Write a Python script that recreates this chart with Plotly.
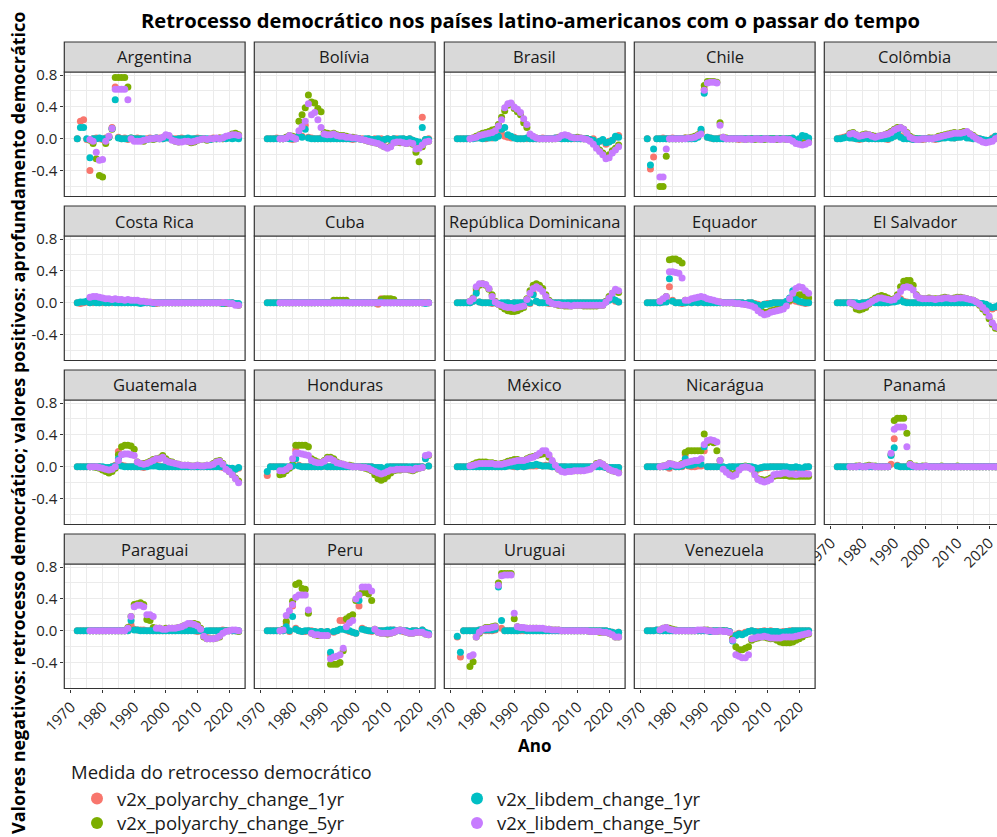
import plotly.graph_objects as go

# ---------------------------------------------------------------------------
# Data: yearly change in the V-Dem indices, one list per country and measure.
# Values are stored in hundredths of an index point; None = not available
# (the 5-year change needs five earlier years).
# ---------------------------------------------------------------------------
YEARS = list(range(1972, 2024))

COUNTRIES = [
    "Argentina", "Bolívia", "Brasil", "Chile", "Colômbia",
    "Costa Rica", "Cuba", "República Dominicana", "Equador", "El Salvador",
    "Guatemala", "Honduras", "México", "Nicarágua", "Panamá",
    "Paraguai", "Peru", "Uruguai", "Venezuela",
]

N = None

ARG_POLY_1 = [0, 22, 24, -1, -40, 0, 1, 0, -1, 1, 3, 14, 65, 2, 0, 1, -1, 0, 0, 1, 0, -1, 0, 1, 0, 0, 1, 0, 2, 1, -1, 0, 0, 1, 0, 0, -1, 0, 1, 0, 0, -1, 0, 1, 0, 1, 0, 1, 2, 1, 3, 2]
ARG_LIB_1 = [0, 14, 14, 0, -24, 0, 0, 1, 0, 0, 2, 13, 49, 1, 0, 0, 0, 1, 0, 0, 0, 0, -1, 0, 0, 1, 0, 0, 1, 1, 0, -1, 0, 0, 0, 1, 0, 0, 0, 0, 0, 0, -1, 0, 0, 0, 1, 0, 1, 0, 1, 0]
ARG_POLY_5 = [N, N, N, N, -2, -6, -25, -46, -48, -6, 2, 12, 77, 77, 77, 77, 65, 1, -1, -2, -2, -3, -1, 0, -1, 1, 0, 1, 4, 3, -1, -3, -4, -3, -2, -3, -5, -4, -2, -1, 0, -2, -1, 0, 0, 1, 0, 2, 3, 6, 7, 5]
ARG_LIB_5 = [N, N, N, N, -1, -3, -17, -27, -26, -3, 3, 13, 62, 62, 62, 62, 49, 0, -3, -3, -3, -2, -1, 0, 0, 1, 0, 2, 5, 4, -2, -3, -4, -4, -3, -3, -4, -3, -2, -1, 0, -1, 0, 0, 1, 0, 1, 3, 4, 5, 5, 4]

BOL_POLY_1 = [0, 0, 0, 1, 0, 0, 2, 0, -1, 0, 5, 3, 17, 2, 1, 0, 0, 1, 0, 0, 0, 1, 0, 0, 0, 0, 0, -1, 0, 0, 0, -1, 0, -2, 0, -1, 0, -2, 0, -1, 0, 0, -1, 0, -1, 0, -2, -4, -6, 27, -1, 0]
BOL_LIB_1 = [0, 0, 0, 0, 0, 0, 1, 0, 0, 0, 4, 2, 12, 1, 0, 0, 0, 0, 0, 0, 0, 0, 0, 0, 0, 0, 0, 0, 0, 0, -1, 0, 0, -1, -1, 0, -2, -1, 0, -1, 0, -1, 0, 0, -1, 0, -2, -3, -4, 14, -1, -1]
BOL_POLY_5 = [N, N, N, N, 0, 0, 2, 4, 3, 1, 22, 30, 39, 55, 46, 45, 38, 34, 8, 7, 6, 7, 5, 4, 4, 3, 2, 2, 1, 0, -1, -2, -3, -4, -5, -6, -8, -10, -11, -9, -5, -4, -5, -4, -6, -5, -7, -17, -29, -10, -4, -3]
BOL_LIB_5 = [N, N, N, N, 0, 0, 1, 4, 2, 0, 10, 15, 22, 44, 30, 33, 24, 14, 6, 5, 5, 6, 4, 3, 3, 2, 2, 1, 1, 0, -1, -2, -3, -4, -5, -6, -8, -10, -12, -10, -5, -4, -4, -5, -6, -5, -6, -13, -12, -8, -4, -3]

BRA_POLY_1 = [0, 0, 0, 0, 0, 1, 1, 2, 1, 0, 2, 1, 2, 4, 10, 3, 2, 1, 2, 0, 0, 0, 0, 0, 0, 0, 0, 1, 0, 0, 0, 1, 2, 0, 1, 0, 0, 0, 1, 0, 0, 0, -1, 0, -5, -3, -2, -7, -3, -2, 2, 4]
BRA_LIB_1 = [0, 0, 0, 0, 0, 0, 1, 1, 0, 1, 1, 2, 1, 3, 12, 14, 5, 3, 1, 0, 0, 0, 1, 0, 0, 0, 0, 0, 0, 0, 0, 1, 1, 0, 0, 0, 0, 1, 0, 0, 0, 0, -1, -2, -6, -3, -1, -5, -4, -2, 3, 2]
BRA_POLY_5 = [N, N, N, N, 0, 1, 3, 5, 7, 8, 9, 11, 12, 18, 27, 35, 42, 44, 38, 34, 30, 20, 14, 4, 2, 1, 0, 0, 0, 0, 0, 0, 1, 3, 4, 3, 2, 1, 2, 1, 0, 0, -2, -5, -10, -14, -18, -22, -20, -15, -12, -8]
BRA_LIB_5 = [N, N, N, N, 0, 1, 2, 4, 5, 6, 7, 8, 10, 16, 24, 39, 44, 45, 40, 37, 33, 25, 18, 6, 3, 1, 0, 0, 0, 0, 0, 0, 1, 4, 5, 4, 2, 1, 1, 1, 0, -1, -3, -7, -12, -16, -20, -25, -24, -18, -14, -10]

CHL_POLY_1 = [0, -38, -23, 0, 0, 1, 0, 0, 1, 0, 0, 0, 1, 0, 0, 1, 3, 10, 62, 2, 1, 0, 0, 1, 0, 0, 0, 0, 0, -1, 0, 0, 0, 0, 0, 0, -1, 0, 0, 0, 0, 0, 0, 0, 0, 0, 0, -3, -2, 2, 1, 0]
CHL_LIB_1 = [0, -33, -13, 0, 0, 0, 0, 0, 0, 0, 0, 0, 0, 0, 0, 0, 2, 12, 57, 2, 1, 0, 0, 0, 0, 0, 0, 0, 0, 0, 0, 0, 0, 0, 0, 0, 0, 0, 0, 0, 0, 0, 0, 0, 0, 0, 1, -2, 0, 4, 3, 1]
CHL_POLY_5 = [N, N, N, N, -60, -60, -22, 0, 0, 0, 0, 0, 1, 1, 2, 3, 5, 8, 67, 72, 72, 72, 71, 20, 2, 1, 0, 0, 0, 0, 0, -1, 0, 0, -1, 0, 0, -1, 0, 0, 0, -1, 0, 0, -1, 0, -2, -4, -5, -6, -5, -4]
CHL_LIB_5 = [N, N, N, N, -48, -48, -13, 0, 0, 0, 0, 0, 0, 1, 1, 2, 4, 6, 61, 70, 71, 71, 70, 17, 2, 0, 0, 0, 0, 0, 0, -1, 0, -1, 0, 0, -1, 0, 0, -1, -1, 0, -1, 0, -1, -1, -3, -6, -7, -8, -7, -5]

COL_POLY_1 = [0, 1, 2, 3, 2, 1, 0, -1, 0, 1, 0, 1, 0, 0, 1, 0, -1, 2, 3, 10, 3, 1, 0, 0, -1, 0, 0, -1, 0, 1, 0, -1, 0, 1, 2, 3, 2, 1, 2, 3, 4, 2, 1, 0, 1, 0, -2, -2, -3, 1, 3, 2]
COL_LIB_1 = [0, 0, 1, 2, 1, 1, 0, 0, 0, 1, 0, 0, 0, 0, 0, 0, 0, 1, 3, 8, 2, 0, 0, 0, -1, 0, 0, 0, 0, 0, 0, 0, 0, 1, 1, 2, 1, 1, 2, 2, 3, 1, 1, 0, 0, 0, -1, -2, -2, 0, 3, 2]
COL_POLY_5 = [N, N, N, N, 7, 8, 5, 3, 5, 6, 5, 4, 3, 3, 4, 5, 7, 9, 12, 14, 14, 12, 8, 3, 1, 0, -1, 0, 0, 1, 1, 1, 3, 4, 5, 6, 7, 8, 7, 8, 9, 8, 6, 4, 1, -1, -3, -4, -3, -2, 1, 2]
COL_LIB_5 = [N, N, N, N, 6, 7, 5, 3, 4, 5, 5, 3, 2, 3, 4, 5, 6, 8, 11, 13, 14, 12, 7, 2, 0, -1, -1, 0, 0, 0, 0, 1, 2, 3, 4, 5, 6, 7, 7, 7, 8, 9, 6, 3, 0, -2, -4, -5, -4, -3, 0, 2]

CRI_POLY_1 = [0, -1, 0, 1, 0, 0, 1, 0, 0, 0, 0, 0, 1, 0, 0, 0, 0, 0, 0, 0, 0, 0, 0, 0, 0, -1, 0, 0, 0, 0, 0, 0, 0, 0, 0, 0, 0, 0, 0, 0, 0, 0, 0, 0, 0, 0, 0, 0, -1, 0, -1, -2]
CRI_LIB_1 = [0, 1, 1, 2, 0, 1, 0, 0, 1, 0, 0, 1, 0, 0, 0, 0, 0, 0, 0, 0, -1, 0, 0, 0, -1, 0, 0, 0, 0, 0, 0, 0, 0, 0, 0, 0, 0, 0, 0, 0, 0, 0, 0, 0, 0, 0, -1, 0, 0, 0, -1, -1]
CRI_POLY_5 = [N, N, N, N, 5, 6, 6, 5, 5, 4, 4, 3, 4, 3, 3, 2, 3, 2, 2, 2, 1, 1, 1, 0, 0, 0, 0, 0, 0, 0, 0, 0, 0, 0, 0, 0, 0, 0, 0, 0, 0, 0, 0, 0, 0, 0, -1, -1, -1, -1, -2, -3]
CRI_LIB_5 = [N, N, N, N, 7, 8, 8, 7, 6, 5, 5, 4, 5, 4, 4, 3, 4, 3, 3, 3, 2, 2, 1, 1, 0, 0, 0, 0, 0, 0, 0, 0, 0, 0, 0, 0, 0, 0, 0, 0, 0, 0, 0, 0, 0, 0, 0, 0, -1, -1, -3, -3]

CUB_POLY_1 = [0, 0, 0, 0, 0, 0, 0, 0, 0, 0, 0, 0, 0, 0, 0, 0, 0, 0, 0, 0, 0, 0, 0, 0, 0, 0, 0, 0, 0, 0, 0, 0, 0, 0, 0, -2, 5, 0, 0, 0, 0, 0, 0, 0, 0, 0, 0, 0, 0, 0, 0, 0]
CUB_LIB_1 = [0, 0, 0, 0, 0, 0, 0, 0, 0, 0, 0, 0, 0, 0, 0, 0, 0, 0, 0, 0, 0, 0, 0, 0, 0, 0, 0, 0, 0, 0, 0, 0, 0, 0, 0, 0, 1, 0, 0, 0, 0, 0, 0, 0, 0, 0, 0, 0, 0, 0, -1, 0]
CUB_POLY_5 = [N, N, N, N, 0, 0, 0, 0, 0, 0, 0, 0, 0, 0, 0, 0, 0, 0, 0, 0, 0, 3, 3, 3, 3, 3, 0, 0, 0, 0, 0, 0, 0, 0, 0, 0, 4, 5, 5, 5, 4, 0, 0, 0, 0, 0, 0, 0, 0, 0, 0, 0]
CUB_LIB_5 = [N, N, N, N, 0, 0, 0, 0, 0, 0, 0, 0, 0, 0, 0, 0, 0, 0, 0, 0, 0, 0, 0, 0, 0, 0, 0, 0, 0, 0, 0, 0, 0, 0, 0, 0, 0, 0, 0, 0, 0, 0, 0, 0, 0, 0, 0, 0, 0, 0, 0, 0]

DOM_POLY_1 = [0, 0, 0, 0, 0, 2, 15, 1, 0, 0, 0, -1, 0, -2, -1, -1, 0, -2, 0, -1, 0, 0, 2, -1, 12, 2, 0, 0, 0, -1, 0, 0, 0, 0, -1, 0, 0, 0, 0, 0, 0, 0, 0, 0, 0, 0, 0, 2, 4, 6, 2, 1]
DOM_LIB_1 = [0, 0, 0, 0, 0, 2, 12, 1, 0, 0, 0, 0, 0, -1, 0, 0, 0, -1, 0, 0, 0, 0, 1, 0, 10, 2, 0, 0, 0, 0, 0, 0, 0, 0, 0, 0, 0, 0, 0, 0, 0, 0, 0, 0, 0, 0, 0, 1, 3, 5, 3, 1]
DOM_POLY_5 = [N, N, N, N, 2, 6, 18, 22, 24, 22, 17, 10, 2, -2, -5, -8, -10, -11, -11, -10, -8, -6, 5, 15, 22, 24, 22, 18, 10, 3, -1, -2, -3, -3, -4, -4, -4, -3, -3, -3, -4, -4, -4, -4, -4, -3, -3, 2, 8, 12, 15, 13]
DOM_LIB_5 = [N, N, N, N, 2, 5, 20, 24, 24, 23, 18, 8, 1, -2, -3, -5, -6, -6, -7, -6, -5, -4, 4, 12, 18, 20, 18, 14, 8, 2, -1, -2, -2, -3, -3, -3, -4, -3, -3, -3, -3, -3, -3, -3, -3, -3, -3, 1, 6, 12, 17, 15]

ECU_POLY_1 = [0, 0, 0, 0, 0, 1, 2, 20, 3, 0, 0, -1, 0, 1, 0, 1, 0, 1, 0, 0, 0, 0, 0, 0, 0, 0, 0, 0, 0, 0, 0, -1, 0, 0, -1, -2, -3, -2, -1, -1, 0, 0, 0, 0, 1, 2, 4, 2, 1, 0, -1, 0]
ECU_LIB_1 = [0, 0, 0, 0, 0, 1, 1, 30, 2, 0, 0, 0, 0, 1, 0, 1, 0, 1, 0, 0, 0, 0, 0, 0, 0, 0, 0, 0, 0, 0, 0, -1, 0, 0, -2, -3, -4, -2, -2, -1, 0, 0, 0, 0, 2, 6, 15, 4, 2, 1, 0, 0]
ECU_POLY_5 = [N, N, N, N, 2, 4, 8, 54, 55, 55, 53, 50, 3, 2, 3, 5, 6, 6, 5, 4, 3, 2, 1, 1, 0, 0, 0, 0, -1, -1, -1, -2, -2, -3, -5, -8, -10, -12, -12, -10, -9, -8, -6, -5, -2, 3, 5, 8, 10, 10, 8, 6]
ECU_LIB_5 = [N, N, N, N, 2, 5, 8, 39, 39, 38, 37, 31, 3, 3, 5, 6, 7, 8, 7, 5, 4, 3, 2, 1, 0, 0, 0, 0, -1, -1, -2, -2, -3, -4, -6, -10, -13, -15, -14, -12, -11, -10, -9, -8, -4, 5, 12, 18, 20, 19, 15, 12]

SLV_POLY_1 = [0, 0, 0, 0, 0, 0, -1, -2, 0, 0, 1, 2, 1, 0, 0, 0, 0, 1, 2, 3, 5, 2, 1, 0, 0, 0, 0, 0, 0, 1, 0, 0, 0, 0, 0, 0, 0, 0, 0, 0, 0, 0, 0, 0, 0, -1, -2, -3, -5, -8, -6, -4]
SLV_LIB_1 = [0, 0, 0, 0, 0, 0, 0, -1, 0, 0, 1, 1, 0, 0, 0, 0, 0, 1, 1, 2, 3, 1, 0, 0, 0, 0, 0, 0, 0, 0, 0, 0, 0, 0, 0, 0, 0, 0, 0, 0, 0, 0, 0, 0, 0, -1, -1, -2, -4, -6, -5, -3]
SLV_POLY_5 = [N, N, N, N, 0, -2, -8, -9, -8, -6, -2, 3, 6, 8, 9, 8, 6, 4, 5, 10, 20, 27, 28, 28, 22, 10, 6, 5, 5, 6, 5, 5, 5, 6, 7, 6, 5, 6, 7, 7, 6, 5, 4, 3, 1, -3, -8, -12, -20, -27, -32, -33]
SLV_LIB_5 = [N, N, N, N, 0, -1, -4, -5, -4, -3, -1, 2, 4, 6, 6, 5, 4, 3, 4, 8, 14, 19, 20, 19, 16, 9, 6, 5, 5, 5, 5, 4, 5, 5, 6, 6, 5, 5, 6, 6, 6, 5, 4, 3, 1, -2, -6, -10, -17, -25, -30, -32]

GTM_POLY_1 = [0, 0, 0, 0, 0, 0, 0, 0, -1, -2, -1, 0, 2, 19, 2, 1, 0, 0, 0, 0, 0, -1, 1, 2, 3, 2, 1, 0, 0, 0, 0, 0, 0, 0, 0, 0, 0, 0, 0, 0, 0, 0, 0, 0, 1, 0, -1, -2, -3, -4, -3, -2]
GTM_LIB_1 = [0, 0, 0, 0, 0, 0, 0, 0, 0, -1, -1, 0, 1, 10, 1, 0, 0, 0, 0, 0, 0, 0, 0, 1, 1, 1, 0, 0, 0, 0, 0, 0, 0, 0, 0, 0, 0, 0, 0, 0, 0, 0, 0, 0, 0, 0, 0, -1, -2, -2, -3, -1]
GTM_POLY_5 = [N, N, N, N, 0, 0, -1, -2, -4, -6, -8, -6, -2, 15, 25, 27, 27, 26, 22, 6, 4, 4, 5, 7, 9, 10, 11, 14, 10, 7, 6, 4, 3, 2, 2, 2, 1, 1, 2, 1, 1, 2, 2, 4, 7, 8, 4, -2, -6, -10, -14, -18]
GTM_LIB_5 = [N, N, N, N, 0, 0, 0, -1, -2, -3, -4, -3, 0, 8, 15, 16, 16, 15, 14, 6, 4, 3, 4, 6, 8, 10, 10, 12, 8, 6, 5, 4, 3, 2, 2, 2, 1, 1, 2, 1, 1, 2, 2, 3, 6, 7, 3, -3, -6, -10, -15, -20]

HND_POLY_1 = [-11, 0, 0, 0, 0, 0, -1, 0, 1, 21, 2, 0, 0, 0, 0, 0, 0, 0, 1, 0, 0, 0, 0, 0, 0, 0, 0, 0, 0, 0, 0, 0, 0, 0, -1, -1, -2, -8, -1, 0, 0, 0, 0, 0, 0, -1, 0, 0, 0, 0, 12, 1]
HND_LIB_1 = [-6, 0, 0, 0, 0, 0, 0, 0, 1, 10, 1, 0, 0, 0, 0, 0, 0, 0, 1, 0, 0, 0, 0, 0, 0, 0, 0, 0, 0, 0, 0, 0, 0, 0, -1, -1, -1, -6, 0, 0, 0, 0, 0, 0, 0, 0, 0, 0, 0, 0, 10, 1]
HND_POLY_5 = [N, N, N, N, -10, -9, -5, -2, 3, 27, 27, 27, 27, 25, 10, 8, 6, 5, 8, 12, 12, 10, 6, 4, 3, 2, 2, 1, 0, 0, -1, -2, -3, -5, -10, -15, -17, -15, -12, -8, -5, -4, -4, -3, -3, -4, -5, -3, -2, -1, 12, 14]
HND_LIB_5 = [N, N, N, N, -5, -5, -3, 0, 10, 17, 17, 16, 15, 14, 8, 6, 5, 5, 7, 10, 10, 8, 5, 4, 3, 2, 1, 0, 0, 0, -1, -1, -2, -4, -6, -8, -9, -8, -6, -4, -4, -3, -3, -3, -3, -3, -4, -2, -2, -1, 14, 15]

MEX_POLY_1 = [0, 0, 0, 0, 1, 1, 0, 0, 1, 0, 0, 0, 0, 0, 0, 1, 1, 1, 0, 0, 1, 0, 1, 1, 1, 1, 2, 1, 2, 1, 0, 0, -1, 0, 0, -1, 0, 0, 0, 0, 0, 0, 0, 0, 1, 0, 0, -1, -1, -1, -2, -1]
MEX_LIB_1 = [0, 0, 0, 0, 0, 0, 0, 0, 0, 0, 0, 0, 0, 0, 0, 0, 1, 1, 1, 0, 1, 0, 1, 2, 2, 3, 2, 1, 1, 1, 0, 0, 0, 0, 0, 0, 0, 0, 0, 0, 0, 0, 0, 0, 0, 0, 0, -1, -1, -1, -1, -1]
MEX_POLY_5 = [N, N, N, N, 1, 3, 5, 6, 6, 6, 5, 5, 4, 3, 4, 5, 7, 8, 9, 9, 8, 8, 10, 12, 13, 14, 15, 16, 17, 12, 6, 1, -3, -5, -6, -5, -5, -5, -5, -5, -4, -3, -2, 0, 4, 5, 3, 0, -3, -5, -6, -7]
MEX_LIB_5 = [N, N, N, N, 1, 2, 3, 4, 4, 4, 4, 4, 3, 3, 3, 4, 5, 6, 7, 8, 8, 8, 9, 11, 12, 14, 17, 20, 20, 15, 8, 2, -3, -6, -7, -6, -6, -5, -5, -5, -5, -4, -3, 0, 3, 5, 3, 0, -3, -5, -6, -8]

NIC_POLY_1 = [0, 0, 0, 0, 0, 0, 0, -2, 2, 0, 0, 0, 15, 1, 0, 0, 1, 1, 20, 0, 0, 0, 0, 0, -1, -1, -1, 0, -1, 0, 0, 0, 0, -1, -2, -3, -2, -1, -1, 0, 0, 0, 0, 0, -1, -1, -2, -1, -2, -3, -1, 0]
NIC_LIB_1 = [0, 0, 0, 0, 0, 0, 0, 0, 2, 0, 0, 1, 10, 2, 2, 3, 5, 3, 25, 0, 0, 0, 0, 0, 0, -1, 0, 0, 0, 0, 0, 0, 0, 0, -1, -2, -1, 0, 0, 0, 0, 0, 0, 0, 0, -1, -1, 0, -1, -2, 0, 0]
NIC_POLY_5 = [N, N, N, N, 0, 1, 2, 4, 3, 2, 2, 4, 18, 20, 20, 20, 20, 20, 41, 30, 32, 30, 20, 8, -2, -6, -8, -10, -8, -3, 0, 1, 0, -2, -8, -15, -16, -17, -16, -14, -12, -11, -11, -11, -11, -12, -12, -12, -12, -12, -12, -12]
NIC_LIB_5 = [N, N, N, N, 0, 1, 2, 4, 3, 2, 2, 3, 5, 6, 7, 8, 8, 10, 28, 33, 34, 33, 31, 8, -3, -7, -10, -12, -10, -4, -1, 0, -1, -3, -10, -16, -18, -19, -18, -16, -10, -9, -9, -8, -8, -9, -9, -10, -9, -9, -9, -9]

PAN_POLY_1 = [0, 0, 0, 0, 0, 0, 0, 1, 0, 0, 0, 0, 0, 0, 0, 0, 0, 3, 35, 2, 0, 0, 0, 0, 0, 0, 0, 0, 0, 0, 0, 0, 0, 0, 0, 0, 0, 0, 0, 0, 0, 0, 0, 0, 0, 0, 0, 0, 0, 0, 0, 0]
PAN_LIB_1 = [0, 0, 0, 0, 0, 0, 0, 0, 0, 0, 0, 0, 0, 0, 0, 0, 0, 14, 24, 1, 0, 0, 0, 0, 0, 0, 0, 0, 0, 0, 0, 0, 0, 0, 0, 0, 0, 0, 0, 0, 0, 0, 0, 0, 0, 0, 0, 0, 0, 0, 0, 0]
PAN_POLY_5 = [N, N, N, N, 0, 0, 1, 1, 0, 1, 2, 1, 1, 0, 0, 0, 0, 15, 58, 61, 61, 61, 42, 4, 1, 1, 0, 1, 1, 0, 0, 0, 0, 1, 0, 0, 0, 0, 1, 0, 0, 0, 0, 0, 0, 0, 0, 0, 0, 0, 0, 0]
PAN_LIB_5 = [N, N, N, N, 0, 0, 0, 1, 0, 0, 1, 1, 0, 0, 0, 0, 0, 17, 47, 50, 50, 50, 25, 3, 1, 0, 0, 0, 1, 0, 0, 0, 0, 0, 0, 0, 0, 0, 0, 0, 0, 0, 0, 0, 0, 0, 0, 0, 0, 0, 0, 0]

PRY_POLY_1 = [0, 0, 0, 0, 0, 0, 0, 0, 0, 0, 0, 0, 0, 0, 0, 0, 0, 7, 2, 1, 1, 1, 0, 0, 0, 0, 0, 0, 0, 0, 0, 0, 1, 0, 0, 0, 1, 0, -1, 0, -2, -1, 0, 0, 0, 0, 1, 0, 0, 0, 0, 0]
PRY_LIB_1 = [0, 0, 0, 0, 0, 0, 0, 0, 0, 0, 0, 0, 0, 0, 0, 0, 0, 13, 1, 1, 0, 0, 0, 0, 0, 0, 0, 0, 0, 0, 0, 0, 0, 0, 0, 0, 0, 0, 0, 0, -1, 0, 0, 0, 0, 0, 0, 0, 0, 0, 0, 0]
PRY_POLY_5 = [N, N, N, N, 0, 0, 0, 0, 0, 0, 0, 0, 0, 0, 0, 0, 4, 18, 33, 34, 35, 33, 14, 13, 4, 3, 3, 2, 3, 3, 3, 3, 4, 5, 7, 8, 9, 9, 8, 3, -8, -10, -10, -10, -9, -8, -2, 0, 0, 0, 0, -1]
PRY_LIB_5 = [N, N, N, N, 0, 0, 0, 0, 0, 0, 0, 0, 0, 0, 0, 0, 3, 18, 30, 32, 32, 30, 20, 20, 18, 3, 3, 2, 2, 3, 3, 3, 4, 5, 7, 9, 9, 8, 6, 2, -7, -10, -10, -10, -9, -7, -3, -1, 0, 1, 1, 0]

PER_POLY_1 = [0, 0, 0, 0, 0, 0, 9, -1, 31, 3, 0, -1, -1, 0, 0, -1, -2, -1, -2, -1, -30, -2, 0, 13, 13, 1, -1, -2, -3, 31, 3, 1, 0, -1, 1, 0, 0, 0, 0, 1, 1, 0, 0, -1, 0, -1, 0, 0, -2, 1, -3, -4]
PER_LIB_1 = [0, 0, 0, 0, 0, 0, 5, 0, 18, 2, 0, -1, 0, 0, -1, -1, -2, -1, -2, -1, -27, -1, 0, 2, 2, 1, 0, -2, -3, 38, 2, 1, 0, 0, 1, 0, 0, 0, 1, 1, 1, 0, 0, 0, 0, -1, 0, 0, -1, 1, -2, -3]
PER_POLY_5 = [N, N, N, N, 0, 2, 12, 20, 37, 58, 60, 53, 52, 22, -3, -5, -6, -6, -5, -6, -42, -42, -42, -40, -25, 15, 18, 20, 38, 45, 48, 48, 46, 38, 2, -2, -3, -3, -4, -3, -2, 0, 1, 0, -2, -3, -3, -2, -1, -2, -4, -5]
PER_LIB_5 = [N, N, N, N, 0, 1, 19, 25, 33, 42, 45, 45, 45, 26, -3, -5, -5, -6, -6, -6, -35, -33, -32, -30, -22, 5, 10, 13, 40, 45, 55, 55, 55, 50, 2, -2, -3, -3, -3, -3, -2, 0, 1, 0, -2, -3, -3, -2, -2, -2, -4, -5]

URY_POLY_1 = [-8, -33, 0, 0, 0, 0, 0, 1, 1, 0, 0, 0, 1, 57, 3, 0, 0, 0, 0, 0, 0, 0, 0, 0, 0, 0, 0, 0, 0, 0, 0, 0, 0, 0, 0, 0, 0, 0, 0, 0, 0, 0, 0, 0, 0, 0, 0, 0, -1, -2, -3, -2]
URY_LIB_1 = [-7, -27, 0, 0, 0, 0, 0, 1, 1, 1, 1, 1, 2, 55, 13, 0, 0, 0, 0, 0, 1, 1, 0, 0, 0, 0, 0, 0, 0, 0, 0, 0, 0, 0, 0, 0, 0, 0, 0, 0, 0, 0, 0, 0, 0, 0, 0, 0, -1, -2, -3, -2]
URY_POLY_5 = [N, N, N, N, -45, -39, -8, -3, 2, 4, 4, 5, 6, 60, 72, 72, 72, 72, 15, 5, 4, 3, 3, 3, 3, 3, 2, 2, 2, 2, 1, 1, 1, 0, 0, 0, 0, 0, 0, 0, 0, 0, -1, -1, -1, -2, -2, -2, -3, -5, -8, -8]
URY_LIB_5 = [N, N, N, N, -32, -30, -8, -2, 2, 3, 3, 4, 5, 57, 69, 70, 70, 70, 22, 5, 4, 4, 3, 3, 3, 3, 3, 3, 2, 2, 1, 1, 1, 0, 0, 0, 0, 0, 0, 0, 0, 0, -1, -1, -1, -1, -2, -2, -3, -5, -8, -8]

VEN_POLY_1 = [0, 0, 0, 1, 0, 0, 0, 0, 0, 0, 0, 0, 0, 0, 0, 0, 0, 0, 0, 0, -1, 0, 0, 0, 0, 0, -1, -10, -5, -3, -4, -2, -1, 0, -1, -1, -1, 0, -1, 0, -1, -1, -2, -1, -1, 0, 0, 0, 0, 0, 0, 0]
VEN_LIB_1 = [0, 0, 0, 1, 0, 0, 0, 0, 0, 0, 0, 0, 0, 0, 0, 0, 0, 0, 0, 0, -1, 0, 0, 0, 0, 0, -1, -13, -6, -4, -5, -3, -1, 0, -1, -2, -1, -1, -1, -1, -1, -1, -2, -2, -1, -1, 0, 0, 0, 0, 0, 0]
VEN_POLY_5 = [N, N, N, N, 1, 3, 4, 3, 2, 1, 0, 0, 0, 0, 0, 0, 0, 0, 1, 1, 0, -1, -1, 0, 0, -1, -2, -10, -20, -24, -24, -22, -20, -12, -10, -9, -8, -8, -9, -10, -10, -12, -14, -15, -15, -15, -14, -12, -10, -8, -5, -4]
VEN_LIB_5 = [N, N, N, N, 1, 3, 4, 2, 1, 0, 0, 0, 0, 0, 0, 0, 1, 1, 1, 0, 0, -1, -1, 0, -1, -1, -2, -12, -30, -32, -34, -34, -30, -10, -9, -8, -8, -7, -8, -9, -9, -9, -9, -8, -8, -8, -8, -7, -6, -5, -4, -3]

# measure order: polyarchy 1yr, polyarchy 5yr, libdem 1yr, libdem 5yr
TABLE = {
    "Argentina": (ARG_POLY_1, ARG_POLY_5, ARG_LIB_1, ARG_LIB_5),
    "Bolívia": (BOL_POLY_1, BOL_POLY_5, BOL_LIB_1, BOL_LIB_5),
    "Brasil": (BRA_POLY_1, BRA_POLY_5, BRA_LIB_1, BRA_LIB_5),
    "Chile": (CHL_POLY_1, CHL_POLY_5, CHL_LIB_1, CHL_LIB_5),
    "Colômbia": (COL_POLY_1, COL_POLY_5, COL_LIB_1, COL_LIB_5),
    "Costa Rica": (CRI_POLY_1, CRI_POLY_5, CRI_LIB_1, CRI_LIB_5),
    "Cuba": (CUB_POLY_1, CUB_POLY_5, CUB_LIB_1, CUB_LIB_5),
    "República Dominicana": (DOM_POLY_1, DOM_POLY_5, DOM_LIB_1, DOM_LIB_5),
    "Equador": (ECU_POLY_1, ECU_POLY_5, ECU_LIB_1, ECU_LIB_5),
    "El Salvador": (SLV_POLY_1, SLV_POLY_5, SLV_LIB_1, SLV_LIB_5),
    "Guatemala": (GTM_POLY_1, GTM_POLY_5, GTM_LIB_1, GTM_LIB_5),
    "Honduras": (HND_POLY_1, HND_POLY_5, HND_LIB_1, HND_LIB_5),
    "México": (MEX_POLY_1, MEX_POLY_5, MEX_LIB_1, MEX_LIB_5),
    "Nicarágua": (NIC_POLY_1, NIC_POLY_5, NIC_LIB_1, NIC_LIB_5),
    "Panamá": (PAN_POLY_1, PAN_POLY_5, PAN_LIB_1, PAN_LIB_5),
    "Paraguai": (PRY_POLY_1, PRY_POLY_5, PRY_LIB_1, PRY_LIB_5),
    "Peru": (PER_POLY_1, PER_POLY_5, PER_LIB_1, PER_LIB_5),
    "Uruguai": (URY_POLY_1, URY_POLY_5, URY_LIB_1, URY_LIB_5),
    "Venezuela": (VEN_POLY_1, VEN_POLY_5, VEN_LIB_1, VEN_LIB_5),
}

MEASURES = [
    "v2x_polyarchy_change_1yr",
    "v2x_polyarchy_change_5yr",
    "v2x_libdem_change_1yr",
    "v2x_libdem_change_5yr",
]
MEASURE_COLORS = ["#F8766D", "#7CAE00", "#00BFC4", "#C77CFF"]
# legend laid out as two rows: 1yr measures on the first, 5yr on the second
MEASURE_LEGEND = ["legend", "legend2", "legend", "legend2"]
MEASURE_RANK = [1, 1, 2, 2]

Y_TICKS = [-0.4, 0.0, 0.4, 0.8]
Y_TICK_TEXT = ["-0.4", "0.0", "0.4", "0.8"]

TITLE = "Retrocesso democrático nos países latino-americanos com o passar do tempo"
Y_TITLE = "Valores negativos: retrocesso democrático; valores positivos: aprofundamento democrático"
X_TITLE = "Ano"
LEGEND_TITLE = "Medida do retrocesso democrático"

# ---------------------------------------------------------------------------
# Page geometry (pixels)
# ---------------------------------------------------------------------------
W, H = 997, 837
FONT = "Open Sans"
NCOL = 5
PANEL_LEFT0, COL_STEP, PANEL_W = 64.3, 190.0, 180.8
STRIP_TOP0, ROW_STEP, STRIP_H, PANEL_H = 42.0, 164.0, 30.0, 124.5
X_RANGE = [1967.9, 2025.05]
Y_RANGE = [-0.725, 0.838]

GRID = "#EBEBEB"
BORDER = "#333333"
STRIP_FILL = "#D9D9D9"


def fx(px):
    return px / W


def fy(py):
    return 1 - py / H


fig = go.Figure()
layout_axes = {}
shapes = []
annotations = []

n = len(COUNTRIES)
for k, country in enumerate(COUNTRIES):
    row, col = divmod(k, NCOL)
    left = PANEL_LEFT0 + COL_STEP * col
    right = left + PANEL_W
    strip_top = STRIP_TOP0 + ROW_STEP * row
    top = strip_top + STRIP_H
    bottom = top + PANEL_H

    # panels running past the page edge are cut at the edge
    vis_right = min(right, W)
    x_hi = X_RANGE[0] + (X_RANGE[1] - X_RANGE[0]) * (vis_right - left) / PANEL_W

    # x labels on the lowest panel of each column
    has_xlabels = k + NCOL >= n
    has_ylabels = col == 0

    sfx = "" if k == 0 else str(k + 1)
    xref, yref = "x" + sfx, "y" + sfx

    layout_axes["xaxis" + sfx] = dict(
        domain=[fx(left), fx(vis_right)],
        range=[X_RANGE[0], x_hi],
        anchor=yref,
        tickmode="linear", tick0=1970, dtick=10,
        showgrid=True, gridcolor=GRID, gridwidth=1.1,
        minor=dict(tickmode="linear", tick0=1965, dtick=10, showgrid=True,
                   gridcolor=GRID, gridwidth=0.6, ticks=""),
        zeroline=False, showline=False,
        ticks="outside" if has_xlabels else "", ticklen=3, tickwidth=1,
        tickcolor=BORDER,
        showticklabels=has_xlabels, tickangle=-45, ticklabeloverflow="allow",
        tickfont=dict(family=FONT, size=15, color="#262626"),
    )
    layout_axes["yaxis" + sfx] = dict(
        domain=[fy(bottom), fy(top)],
        range=Y_RANGE,
        anchor=xref,
        tickmode="array", tickvals=Y_TICKS, ticktext=Y_TICK_TEXT,
        showgrid=True, gridcolor=GRID, gridwidth=1.1,
        minor=dict(tickmode="array", tickvals=[-0.6, -0.2, 0.2, 0.6], showgrid=True,
                   gridcolor=GRID, gridwidth=0.6, ticks=""),
        zeroline=False, showline=False,
        ticks="outside" if has_ylabels else "", ticklen=3, tickwidth=1,
        tickcolor=BORDER,
        showticklabels=has_ylabels,
        tickfont=dict(family=FONT, size=15, color="#262626"),
    )

    # panel border
    shapes.append(dict(type="rect", xref="paper", yref="paper",
                       x0=fx(left), x1=fx(right), y0=fy(bottom), y1=fy(top),
                       line=dict(color=BORDER, width=1.2), fillcolor="rgba(0,0,0,0)",
                       layer="above"))
    # facet strip
    shapes.append(dict(type="rect", xref="paper", yref="paper",
                       x0=fx(left), x1=fx(right), y0=fy(top), y1=fy(strip_top),
                       line=dict(color=BORDER, width=1.2), fillcolor=STRIP_FILL,
                       layer="above"))
    annotations.append(dict(text=country, xref="paper", yref="paper",
                            x=fx((left + right) / 2), y=fy(strip_top + STRIP_H / 2),
                            xanchor="center", yanchor="middle", showarrow=False,
                            font=dict(family=FONT, size=16.5, color="#1A1A1A")))

    series = TABLE[country]
    for m, (name, color) in enumerate(zip(MEASURES, MEASURE_COLORS)):
        vals = [None if v is None else v / 100 for v in series[m]]
        fig.add_trace(go.Scatter(
            x=YEARS, y=vals, mode="markers",
            marker=dict(color=color, size=7, line=dict(width=0)),
            name=name, legendgroup=name,
            legend=MEASURE_LEGEND[m], legendrank=MEASURE_RANK[m],
            showlegend=(k == 0),
            xaxis=xref, yaxis=yref, hoverinfo="skip",
        ))

# axis titles, main title and legend title
annotations.append(dict(text="<b>" + X_TITLE + "</b>", xref="paper", yref="paper",
                        x=fx(534), y=fy(745), xanchor="center", yanchor="middle",
                        showarrow=False, font=dict(family=FONT, size=17, color="#000000")))
annotations.append(dict(text="<b>" + Y_TITLE + "</b>", xref="paper", yref="paper",
                        x=fx(18), y=fy(423), xanchor="center", yanchor="middle",
                        textangle=-90, showarrow=False,
                        font=dict(family=FONT, size=18, color="#000000")))
annotations.append(dict(text="<b>" + TITLE + "</b>", xref="paper", yref="paper",
                        x=fx(530), y=fy(20), xanchor="center", yanchor="middle",
                        showarrow=False, font=dict(family=FONT, size=20.2, color="#000000")))
annotations.append(dict(text=LEGEND_TITLE, xref="paper", yref="paper",
                        x=fx(69), y=fy(771), xanchor="left", yanchor="middle",
                        showarrow=False, font=dict(family=FONT, size=18.5, color="#1A1A1A")))

legend_common = dict(
    orientation="h", x=fx(77), xanchor="left", yanchor="middle",
    font=dict(family=FONT, size=18.5, color="#1A1A1A"),
    entrywidth=335, entrywidthmode="pixels",
    itemsizing="constant", bgcolor="rgba(0,0,0,0)", tracegroupgap=0,
)

fig.update_layout(
    width=W, height=H,
    margin=dict(l=0, r=0, t=0, b=0, autoexpand=False),
    paper_bgcolor="white", plot_bgcolor="white",
    font=dict(family=FONT, color="#1A1A1A"),
    shapes=shapes, annotations=annotations,
    showlegend=True,
    legend=dict(y=fy(799), **legend_common),
    legend2=dict(y=fy(823.5), **legend_common),
    **layout_axes,
)

fig.write_html("out.html")
